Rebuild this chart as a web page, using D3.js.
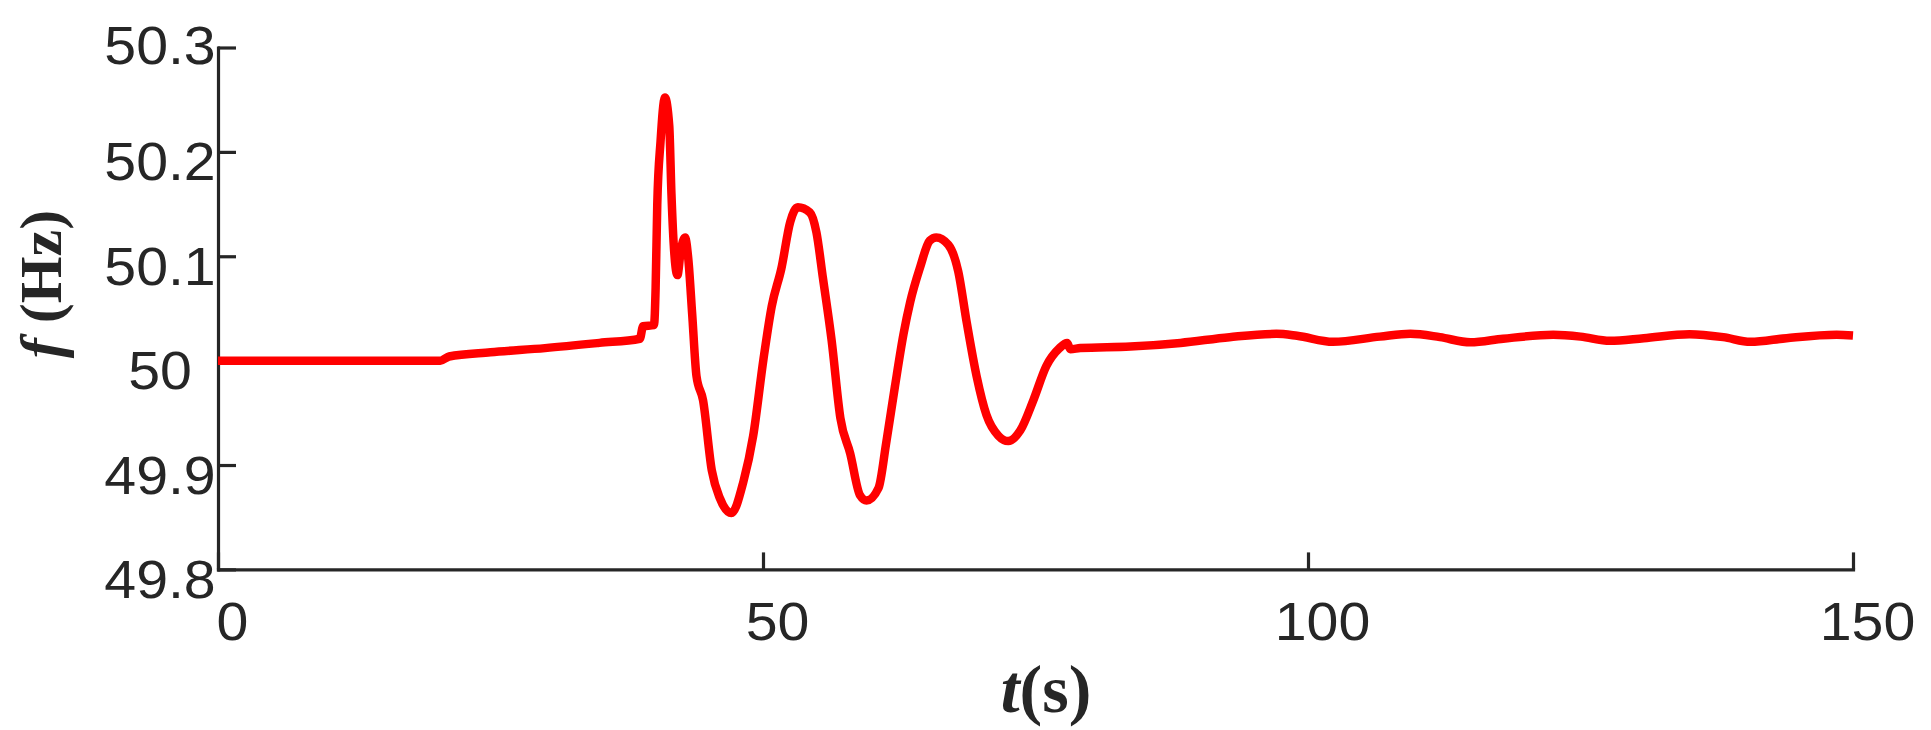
<!DOCTYPE html>
<html lang="en">
<head>
    <meta charset="UTF-8">
    <title>f(t)</title>
    <script src="https://cdn.jsdelivr.net/npm/d3@7/dist/d3.min.js"></script>
    <style>
        body { margin: 0; background: #fff; }
        .axis path, .axis line { stroke: #262626; stroke-width: 3.2px; }
        .axis text { font-family: "Liberation Sans", Arial, sans-serif; font-size: 53px; fill: #262626; }
        .label { font-family: "Liberation Serif", "Times New Roman", serif; font-weight: bold; fill: #262626; }
    </style>
</head>
<body>
<div id="d3"></div>
<script>
    // data
    var t_values = [0, 20.4, 21.2, 25, 30, 35, 38.7, 39.0, 40.0, 40.15, 40.3, 40.6, 41.0, 41.4, 41.6, 41.8,
        42.15, 42.45, 42.85, 43.15, 43.5, 43.9, 44.5, 45.3, 46.05, 47.1, 48.2, 49.1, 50.05, 50.8, 51.7,
        52.5, 53.2, 54.3, 54.9, 55.5, 56.3, 57.1, 58.0, 58.9, 59.5, 60.6, 61.3, 62.1, 62.9, 63.5, 64.4,
        65.3, 65.9, 67.0, 67.9, 68.7, 69.6, 70.5, 71.6, 72.5, 73.6, 74.8, 76.0, 77.2, 77.9, 78.2, 79.1,
        83.7, 88.3, 92.8, 97.1, 99.0, 102.3, 106.6, 109.4, 112.1, 114.9, 117.9, 122.5, 125.0, 127.7,
        130.8, 135.0, 138.1, 140.6, 143.9, 148.5, 150];
    var f_values = [50.000, 50.000, 50.004, 50.008, 50.012, 50.017, 50.021, 50.033, 50.034, 50.07, 50.15,
        50.21, 50.252, 50.225, 50.16, 50.113, 50.082, 50.105, 50.118, 50.097, 50.045, 49.985, 49.962,
        49.895, 49.868, 49.854, 49.884, 49.928, 50.002, 50.052, 50.089, 50.133, 50.147, 50.142, 50.123,
        50.079, 50.019, 49.945, 49.911, 49.871, 49.866, 49.878, 49.921, 49.975, 50.026, 50.056, 50.089,
        50.115, 50.118, 50.111, 50.086, 50.036, 49.985, 49.948, 49.928, 49.923, 49.933, 49.962, 49.995,
        50.012, 50.017, 50.011, 50.012, 50.0135, 50.017, 50.0225, 50.0257, 50.0238, 50.018, 50.023,
        50.0257, 50.0225, 50.0175, 50.021, 50.0247, 50.023, 50.019, 50.0215, 50.0254, 50.0225, 50.018,
        50.0215, 50.0247, 50.024];
    var x_ticks = [0, 50, 100, 150];
    var y_ticks = [49.8, 49.9, 50, 50.1, 50.2, 50.3];
    var y_tick_labels = ["49.8", "49.9", "50", "50.1", "50.2", "50.3"];

    var width = 1931;
    var height = 730;
    var plot_left = 218, plot_right = 1853, plot_top = 47.5, plot_bottom = 569.4;

    var svg = d3.select("#d3")
                .append("svg")
                .attr("width", width)
                .attr("height", height);

    var x = d3.scaleLinear().domain([0, 150]).range([plot_left, plot_right]);
    var y = d3.scaleLinear().domain([49.8, 50.3]).range([plot_bottom, plot_top]);

    // x axis, ticks pointing inward
    var gx = svg.append("g")
                .attr("class", "axis")
                .attr("transform", "translate(0," + plot_bottom + ")")
                .call(d3.axisBottom(x).tickValues(x_ticks).tickSize(-17).tickSizeOuter(0).tickFormat(d3.format("d")));
    gx.selectAll("text")
            .attr("y", 0).attr("dy", null).attr("x", 0)
            .attr("text-anchor", "middle")
            .attr("transform", "translate(14,71) scale(1.08,1)");

    // y axis
    var gy = svg.append("g")
                .attr("class", "axis")
                .attr("transform", "translate(" + plot_left + ",0)")
                .call(d3.axisLeft(y).tickValues(y_ticks).tickSize(-18).tickSizeOuter(0)
                        .tickFormat(function (d, i) { return y_tick_labels[i]; }));
    gy.selectAll("text")
            .attr("x", 0).attr("dy", null).attr("y", 0)
            .attr("text-anchor", "middle")
            .attr("transform", function (d, i) {
                var dy = (i === y_ticks.length - 1) ? 15.6 : 28;
                return "translate(-58," + dy + ") scale(1.08,1)";
            });
    svg.selectAll(".axis .domain").attr("stroke-linecap", "square");

    // curve
    var line = d3.line()
                .x(function (d) { return x(d[0]); })
                .y(function (d) { return y(d[1]); })
                .curve(d3.curveMonotoneX);

    svg.append("path")
            .datum(d3.zip(t_values, f_values))
            .attr("d", line)
            .attr("fill", "none")
            .attr("stroke", "#ff0000")
            .attr("stroke-width", 8.5)
            .attr("stroke-linejoin", "round");

    // axis labels
    var xl = svg.append("text")
                .attr("class", "label")
                .attr("x", 1046)
                .attr("y", 712)
                .attr("text-anchor", "middle")
                .style("font-size", "68px");
    xl.append("tspan").style("font-style", "italic").text("t");
    xl.append("tspan").text("(s)");

    var yl = svg.append("text")
                .attr("class", "label")
                .attr("transform", "translate(61,284) rotate(-90)")
                .attr("text-anchor", "middle")
                .style("font-size", "60px");
    yl.append("tspan").style("font-style", "italic").text("f ");
    yl.append("tspan").text("(Hz)");
</script>
</body>
</html>
